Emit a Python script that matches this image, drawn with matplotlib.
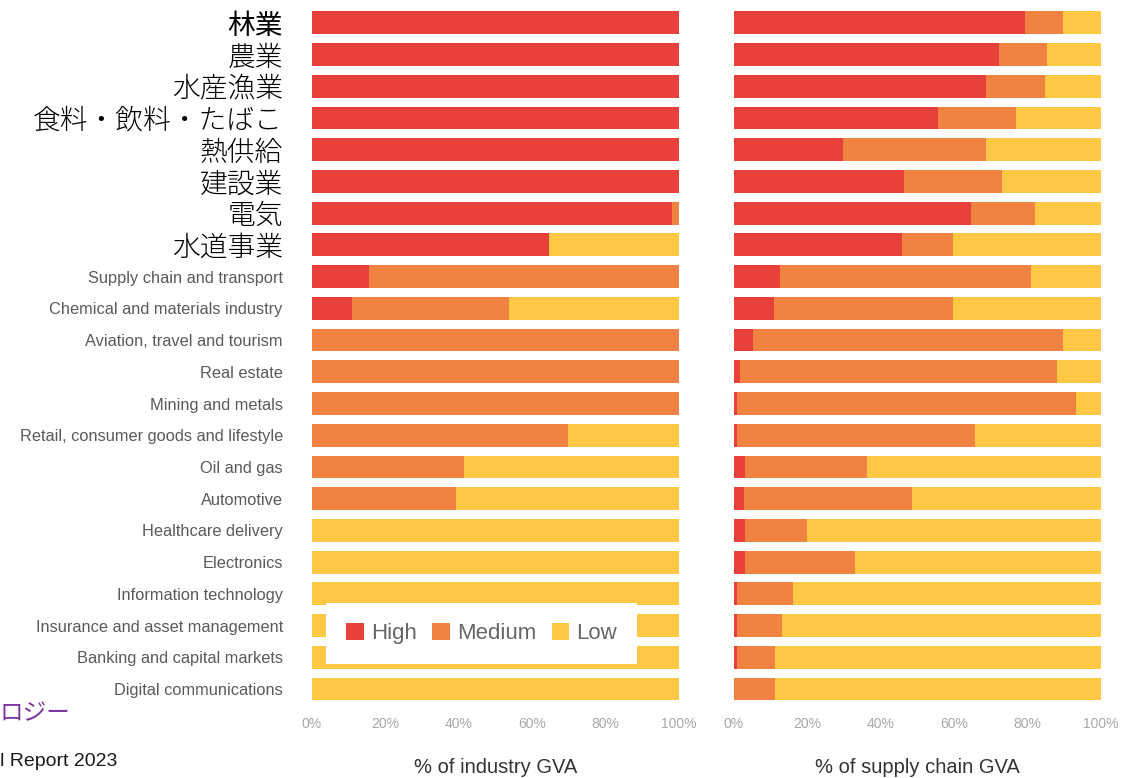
import matplotlib
matplotlib.use("Agg")
import matplotlib.pyplot as plt
from matplotlib.patches import Patch
import numpy as np

plt.rcParams['font.family'] = ['Liberation Sans', 'Noto Sans CJK JP', 'DejaVu Sans']

# 産業名 (上から順)
industries = [
    "林業", "農業", "水産漁業", "食料・飲料・たばこ", "熱供給", "建設業", "電気", "水道事業",
    "Supply chain and transport", "Chemical and materials industry",
    "Aviation, travel and tourism", "Real estate", "Mining and metals",
    "Retail, consumer goods and lifestyle", "Oil and gas", "Automotive",
    "Healthcare delivery", "Electronics", "Information technology",
    "Insurance and asset management", "Banking and capital markets",
    "Digital communications",
]
n_jp = 8

# % of industry GVA
ind_high = [100, 100, 100, 100, 100, 100, 98.2, 64.6, 15.6, 10.9, 0, 0, 0, 0, 0, 0, 0, 0, 0, 0, 0, 0]
ind_medium = [0, 0, 0, 0, 0, 0, 1.8, 0, 84.4, 42.8, 100, 100, 100, 69.8, 41.4, 39.2, 0, 0, 0, 0, 0, 0]
ind_low = [0, 0, 0, 0, 0, 0, 0, 35.4, 0, 46.3, 0, 0, 0, 30.2, 58.6, 60.8, 100, 100, 100, 100, 100, 100]

# % of supply chain GVA
sc_high = [79.3, 72.3, 68.7, 55.5, 29.6, 46.3, 64.6, 45.9, 12.6, 10.8, 5.3, 1.7, 0.7, 0.7, 3.1, 2.6,
           3.1, 3.1, 0.7, 0.7, 0.7, 0]
sc_medium = [10.4, 12.9, 16.0, 21.3, 39.2, 26.6, 17.4, 13.9, 68.2, 49.0, 84.4, 86.2, 92.5, 65.1, 33.1, 46.0,
             16.7, 29.9, 15.3, 12.5, 10.5, 11.2]
sc_low = [100 - h - m for h, m in zip(sc_high, sc_medium)]

levels = ["High", "Medium", "Low"]
colors = ["#e8413a", "#f08341", "#fec845"]

fig = plt.figure(figsize=(11.36, 7.78), dpi=100)
ax1 = fig.add_axes([312 / 1136, 0.094, 367 / 1136, 0.897])
ax2 = fig.add_axes([734 / 1136, 0.094, 367 / 1136, 0.897])

y = np.arange(len(industries))

def draw(ax, high, medium, low, xlabel):
    left = np.zeros(len(industries))
    for vals, c in zip([high, medium, low], colors):
        vals = np.array(vals, dtype=float)
        ax.barh(y, vals, left=left, height=0.72, color=c, linewidth=0)
        left += vals
    ax.set_xlim(0, 100)
    ax.set_ylim(len(industries) - 0.5, -0.5)
    for s in ax.spines.values():
        s.set_visible(False)
    ax.set_xticks([0, 20, 40, 60, 80, 100])
    ax.set_xticklabels(["0%", "20%", "40%", "60%", "80%", "100%"])
    ax.tick_params(axis='x', length=0, pad=9, labelsize=10, labelcolor="#a8a8a8")
    ax.tick_params(axis='y', length=0)
    ax.set_xlabel(xlabel, fontsize=14.5, color="#333333", labelpad=19)

draw(ax1, ind_high, ind_medium, ind_low, "% of industry GVA")
draw(ax2, sc_high, sc_medium, sc_low, "% of supply chain GVA")

ax1.set_yticks(y)
ax1.set_yticklabels(industries)
ax1.tick_params(axis='y', pad=21)
for i, lab in enumerate(ax1.get_yticklabels()):
    if i < n_jp:
        lab.set_fontfamily(['Noto Sans CJK JP', 'DejaVu Sans'])
        lab.set_fontsize(20)
        # 林業だけ少し太い
        lab.set_fontweight('normal' if i == 0 else 'light')
        lab.set_color("#000000")
    else:
        lab.set_fontsize(11.8)
        lab.set_color("#5a5a5a")
ax2.set_yticks([])

handles = [Patch(facecolor=c, edgecolor='none') for c in colors]
leg = ax1.legend(handles, levels, loc='center', bbox_to_anchor=(0.462, 0.102), ncol=3,
                 frameon=True, fancybox=False, fontsize=16, handlelength=0.8, handleheight=0.8,
                 handletextpad=0.3, columnspacing=0.7, borderpad=0.9, borderaxespad=0)
leg.get_frame().set_facecolor("white")
leg.get_frame().set_edgecolor("none")
leg.get_frame().set_alpha(1)
for t in leg.get_texts():
    t.set_color("#666666")

# スライドの切れ端
fig.text(0.0, 1 - 714 / 778, "ロジー", fontsize=17, color="#7a35a5", va='center',
         family=['Noto Sans CJK JP', 'DejaVu Sans'])
fig.text(0.0, 1 - 762 / 778, "l Report 2023", fontsize=14, color="#1a1a1a", va='center')

fig.savefig("out.png", dpi=100)
